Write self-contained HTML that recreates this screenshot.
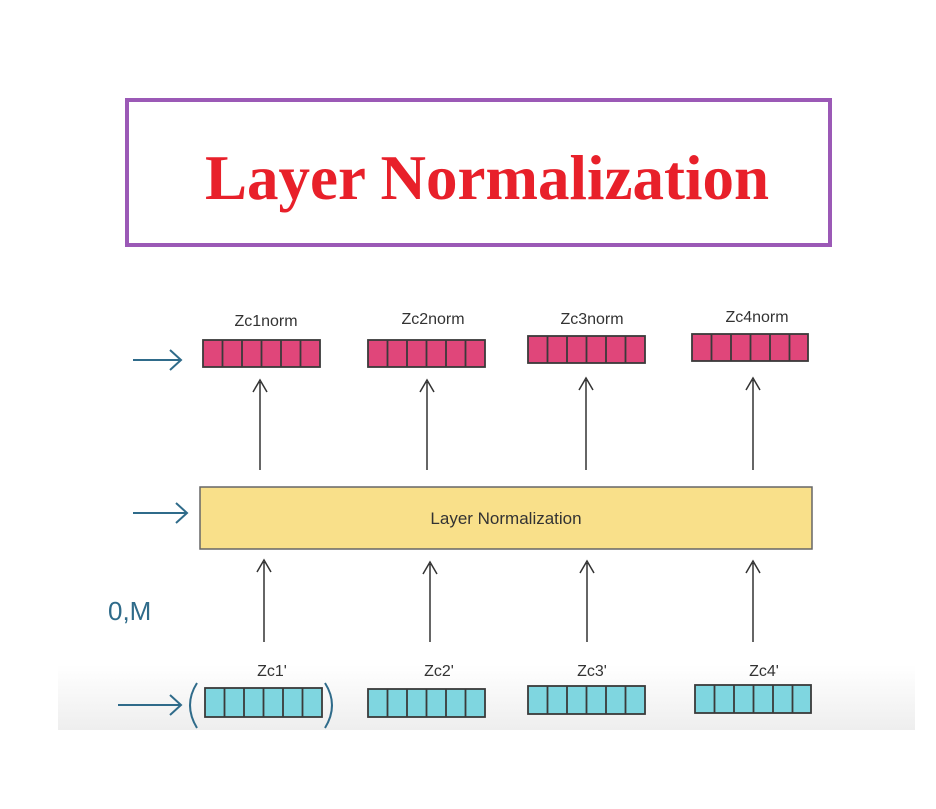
<!DOCTYPE html>
<html><head><style>
html,body{margin:0;padding:0;background:#fff;width:936px;height:809px;overflow:hidden}
</style></head><body>
<svg width="936" height="809" xmlns="http://www.w3.org/2000/svg">
<defs>
<linearGradient id="g" x1="0" y1="0" x2="0" y2="1"><stop offset="0" stop-color="#fff"/><stop offset="1" stop-color="#eeeeee"/></linearGradient>
</defs>
<rect x="58" y="665" width="857" height="65" fill="url(#g)"/>
<rect x="127" y="100" width="703" height="145" fill="#fff" stroke="#9b59b6" stroke-width="4"/>
<text x="487" y="199" text-anchor="middle" font-family="Liberation Serif, serif" font-weight="bold" font-size="63" fill="#e8202a">Layer Normalization</text>
<g font-family="Liberation Sans, sans-serif" font-size="16" fill="#333" text-anchor="middle">
<text x="266" y="326">Zc1norm</text><text x="433" y="324">Zc2norm</text><text x="592" y="324">Zc3norm</text><text x="757" y="322">Zc4norm</text>
<text x="272" y="676">Zc1'</text><text x="439" y="676">Zc2'</text><text x="592" y="676">Zc3'</text><text x="764" y="676">Zc4'</text>
</g>
<g stroke="#3a3a3a" stroke-width="1.8">
<g fill="#e0467a">
<rect x="203" y="340" width="117" height="27"/><rect x="368" y="340" width="117" height="27"/><rect x="528" y="336" width="117" height="27"/><rect x="692" y="334" width="116" height="27"/>
</g>
<g fill="#7fd6e0">
<rect x="205" y="688" width="117" height="29"/><rect x="368" y="689" width="117" height="28"/><rect x="528" y="686" width="117" height="28"/><rect x="695" y="685" width="116" height="28"/>
</g>
<path d="M222.5 340v27M242 340v27M261.5 340v27M281 340v27M300.5 340v27 M387.5 340v27M407 340v27M426.5 340v27M446 340v27M465.5 340v27 M547.5 336v27M567 336v27M586.5 336v27M606 336v27M625.5 336v27 M711.5 334v27M731 334v27M750.5 334v27M770 334v27M789.5 334v27"/>
<path d="M224.5 688v29M244 688v29M263.5 688v29M283 688v29M302.5 688v29 M387.5 689v28M407 689v28M426.5 689v28M446 689v28M465.5 689v28 M547.5 686v28M567 686v28M586.5 686v28M606 686v28M625.5 686v28 M714.5 685v28M734 685v28M753.5 685v28M773 685v28M792.5 685v28"/>
</g>
<rect x="200" y="487" width="612" height="62" fill="#f9e08a" stroke="#666" stroke-width="1.5"/>
<text x="506" y="524" text-anchor="middle" font-family="Liberation Sans, sans-serif" font-size="17" fill="#333">Layer Normalization</text>
<g stroke="#333" stroke-width="1.5" fill="none">
<path d="M260 470V382M253 392l7-12 7 12"/><path d="M427 470V382M420 392l7-12 7 12"/><path d="M586 470V380M579 390l7-12 7 12"/><path d="M753 470V380M746 390l7-12 7 12"/>
<path d="M264 642V562M257 572l7-12 7 12"/><path d="M430 642V564M423 574l7-12 7 12"/><path d="M587 642V563M580 573l7-12 7 12"/><path d="M753 642V563M746 573l7-12 7 12"/>
</g>
<g stroke="#2f6b8a" stroke-width="2" fill="none">
<path d="M133 360H180M170 350l11 10-11 10"/>
<path d="M133 513H186M176 503l11 10-11 10"/>
<path d="M118 705H180M170 695l11 10-11 10"/>
<path d="M197 683q-14 22 0 45"/><path d="M325 683q14 22 0 45"/>
</g>
<text x="108" y="620" font-family="Liberation Sans, sans-serif" font-size="26" fill="#2f6b8a">0,M</text>
</svg>
</body></html>
